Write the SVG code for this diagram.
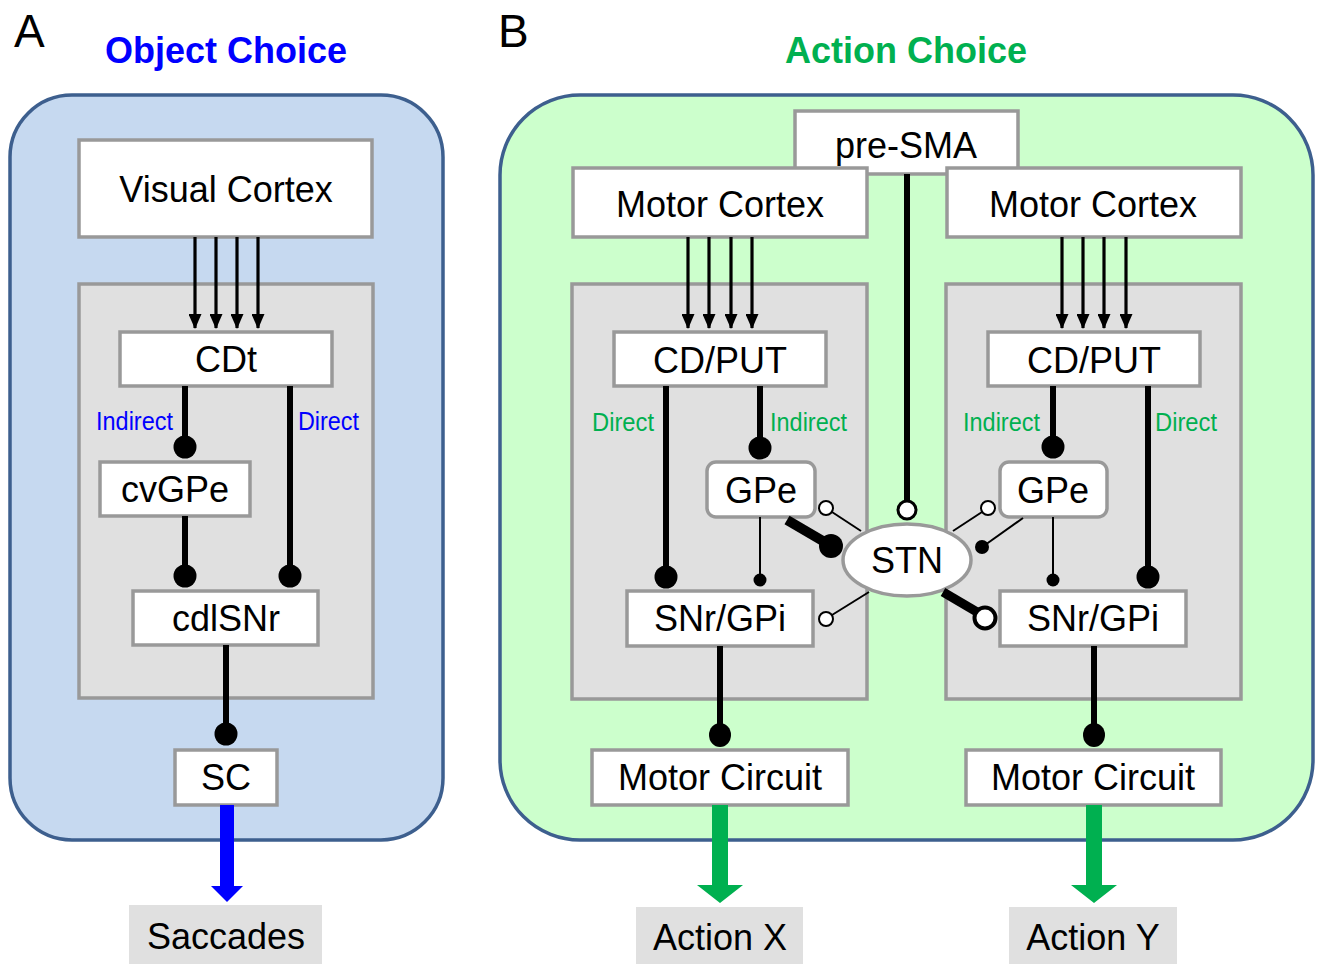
<svg xmlns="http://www.w3.org/2000/svg" width="1320" height="964" viewBox="0 0 1320 964">
<defs>
<style>
text{font-family:"Liberation Sans",Arial,sans-serif;fill:#000}
.t{font-size:36px;text-anchor:middle}
.h{font-size:46px}
.ttl{font-size:36px;font-weight:bold;text-anchor:middle}
.lbl{font-size:26px}
.node{fill:#fff;stroke:#999;stroke-width:3.5}
.grp{fill:#e0e0e0;stroke:#999;stroke-width:3.5}
.panel{stroke:#3d5f8e;stroke-width:3.5}
.ln{stroke:#000;fill:none}
.thick{stroke-width:6}
.thin{stroke-width:2}
.ex{stroke-width:3.2}
.dot{fill:#000}
.open{fill:#fff;stroke:#000;stroke-width:2}
</style>
<marker id="ah" viewBox="0 0 15 13" refX="14" refY="6.5" markerWidth="15" markerHeight="13" markerUnits="userSpaceOnUse" orient="auto">
<path d="M0,0 L15,6.5 L0,13 z" fill="#000"/>
</marker>
</defs>
<rect width="1320" height="964" fill="#fff"/>

<!-- Panel A -->
<g id="panelA">
<text class="h" x="14" y="47">A</text>
<text class="ttl" x="226" y="63" style="fill:#0000ff">Object Choice</text>
<rect class="panel" x="10" y="95" width="433" height="745" rx="62" fill="#c6d9f0"/>
<rect id="groupA" class="grp" x="79" y="284" width="294" height="414"/>
</g>
<g id="visualCortex"><rect class="node" x="79" y="140" width="293" height="97"/><text class="t" x="226" y="202">Visual Cortex</text></g>
<g id="cdt"><rect class="node" x="120" y="332" width="212" height="54"/><text class="t" x="226" y="372">CDt</text></g>
<g id="cvgpe"><rect class="node" x="100" y="462" width="150" height="54"/><text class="t" x="175" y="502">cvGPe</text></g>
<g id="cdlsnr"><rect class="node" x="133" y="591" width="185" height="54"/><text class="t" x="226" y="631">cdlSNr</text></g>
<g id="sc"><rect class="node" x="175" y="750" width="102" height="55"/><text class="t" x="226" y="790">SC</text></g>
<g id="saccades"><rect x="129" y="905" width="193" height="59" fill="#e0e0e0"/><text class="t" x="226" y="949">Saccades</text></g>

<!-- Panel B -->
<g id="panelB">
<text class="h" x="498" y="47">B</text>
<text class="ttl" x="906" y="63" style="fill:#00b050">Action Choice</text>
<rect class="panel" x="500" y="95" width="813" height="745" rx="80" fill="#ccffcc"/>
<rect id="groupL" class="grp" x="572" y="284" width="295" height="415"/>
<rect id="groupR" class="grp" x="946" y="284" width="295" height="415"/>
</g>
<g id="preSMA"><rect class="node" x="795" y="111" width="223" height="63"/><text class="t" x="906" y="158">pre-SMA</text></g>
<g id="motorCortexL"><rect class="node" x="573" y="168" width="294" height="69"/><text class="t" x="720" y="217">Motor Cortex</text></g>
<g id="motorCortexR"><rect class="node" x="947" y="168" width="294" height="69"/><text class="t" x="1093" y="217">Motor Cortex</text></g>
<g id="cdputL"><rect class="node" x="614" y="332" width="212" height="54"/><text class="t" x="720" y="373">CD/PUT</text></g>
<g id="cdputR"><rect class="node" x="988" y="332" width="212" height="54"/><text class="t" x="1094" y="373">CD/PUT</text></g>
<g id="gpeL"><rect class="node" x="707" y="462" width="108" height="55" rx="9"/><text class="t" x="761" y="503">GPe</text></g>
<g id="gpeR"><rect class="node" x="1000" y="462" width="107" height="55" rx="9"/><text class="t" x="1053" y="503">GPe</text></g>
<g id="snrL"><rect class="node" x="627" y="591" width="186" height="55"/><text class="t" x="720" y="631">SNr/GPi</text></g>
<g id="snrR"><rect class="node" x="1000" y="591" width="186" height="55"/><text class="t" x="1093" y="631">SNr/GPi</text></g>
<g id="stn"><ellipse class="node" cx="907" cy="560" rx="64" ry="36"/><text class="t" x="907" y="573">STN</text></g>
<g id="motorCircuitL"><rect class="node" x="592" y="750" width="256" height="55"/><text class="t" x="720" y="790">Motor Circuit</text></g>
<g id="motorCircuitR"><rect class="node" x="966" y="750" width="255" height="55"/><text class="t" x="1093" y="790">Motor Circuit</text></g>
<g id="actionX"><rect x="636" y="907" width="167" height="57" fill="#e0e0e0"/><text class="t" x="720" y="950">Action X</text></g>
<g id="actionY"><rect x="1009" y="907" width="168" height="57" fill="#e0e0e0"/><text class="t" x="1093" y="950">Action Y</text></g>

<!-- Connectors -->
<g id="connectors">
<!-- A: cortex to CDt -->
<g class="ln ex" marker-end="url(#ah)">
<line x1="195" y1="237" x2="195" y2="328"/>
<line x1="216" y1="237" x2="216" y2="328"/>
<line x1="237" y1="237" x2="237" y2="328"/>
<line x1="258" y1="237" x2="258" y2="328"/>
</g>
<g class="ln thick">
<line x1="185" y1="386" x2="185" y2="445"/>
<line x1="290" y1="386" x2="290" y2="574"/>
<line x1="185" y1="516" x2="185" y2="574"/>
<line x1="226" y1="645" x2="226" y2="732"/>
</g>
<circle class="dot" cx="185" cy="447" r="11.5"/>
<circle class="dot" cx="185" cy="576" r="11.5"/>
<circle class="dot" cx="290" cy="576" r="11.5"/>
<circle class="dot" cx="226" cy="734" r="11.5"/>
<text class="lbl" x="96" y="430" style="fill:#0000ff" textLength="77" lengthAdjust="spacingAndGlyphs">Indirect</text>
<text class="lbl" x="298" y="430" style="fill:#0000ff" textLength="61" lengthAdjust="spacingAndGlyphs">Direct</text>
<path d="M220,805 H234 V886 H243 L227,902 L211,886 H220 Z" fill="#0000ff"/>

<!-- B: cortex to CD/PUT -->
<g class="ln ex" marker-end="url(#ah)">
<line x1="688" y1="237" x2="688" y2="328"/>
<line x1="709" y1="237" x2="709" y2="328"/>
<line x1="731" y1="237" x2="731" y2="328"/>
<line x1="752" y1="237" x2="752" y2="328"/>
<line x1="1062" y1="237" x2="1062" y2="328"/>
<line x1="1083" y1="237" x2="1083" y2="328"/>
<line x1="1104" y1="237" x2="1104" y2="328"/>
<line x1="1126" y1="237" x2="1126" y2="328"/>
</g>
<g class="ln thick">
<line x1="666" y1="386" x2="666" y2="575"/>
<line x1="760" y1="386" x2="760" y2="446"/>
<line x1="1053" y1="386" x2="1053" y2="446"/>
<line x1="1148" y1="386" x2="1148" y2="575"/>
<line x1="907" y1="174" x2="907" y2="501"/>
<line x1="720" y1="646" x2="720" y2="733"/>
<line x1="1094" y1="646" x2="1094" y2="733"/>
</g>
<circle class="dot" cx="666" cy="577" r="11.5"/>
<circle class="dot" cx="760" cy="448" r="11.5"/>
<circle class="dot" cx="1053" cy="447" r="11.5"/>
<circle class="dot" cx="1148" cy="577" r="11.5"/>
<ellipse class="dot" cx="720" cy="735" rx="11" ry="12"/>
<ellipse class="dot" cx="1094" cy="735" rx="11" ry="12"/>
<circle class="open" cx="907" cy="510" r="9" style="stroke-width:3"/>
<text class="lbl" x="592" y="431" style="fill:#00b050" textLength="62" lengthAdjust="spacingAndGlyphs">Direct</text>
<text class="lbl" x="770" y="431" style="fill:#00b050" textLength="77" lengthAdjust="spacingAndGlyphs">Indirect</text>
<text class="lbl" x="963" y="431" style="fill:#00b050" textLength="77" lengthAdjust="spacingAndGlyphs">Indirect</text>
<text class="lbl" x="1155" y="431" style="fill:#00b050" textLength="62" lengthAdjust="spacingAndGlyphs">Direct</text>
<!-- thin connections -->
<g class="ln thin">
<line x1="760" y1="517" x2="760" y2="578"/>
<line x1="1053" y1="517" x2="1053" y2="578"/>
<line x1="861" y1="531" x2="832" y2="512"/>
<line x1="869" y1="592" x2="832" y2="615"/>
<line x1="953" y1="531" x2="982" y2="512"/>
<line x1="1023" y1="518" x2="985" y2="545"/>
</g>
<circle class="dot" cx="760" cy="580" r="6.5"/>
<circle class="dot" cx="1053" cy="580" r="6.5"/>
<circle class="dot" cx="982" cy="547" r="7"/>
<circle class="open" cx="826" cy="508" r="7"/>
<circle class="open" cx="826" cy="619" r="7"/>
<circle class="open" cx="988" cy="508" r="7"/>
<!-- GPe to STN thick -->
<line class="ln" x1="787" y1="520" x2="828" y2="544" style="stroke-width:10"/>
<circle class="dot" cx="831" cy="546" r="12"/>
<!-- STN to SNr right thick -->
<line class="ln" x1="943" y1="592" x2="977" y2="612" style="stroke-width:9"/>
<circle cx="985" cy="618" r="10.5" fill="#fff" stroke="#000" stroke-width="4"/>
<!-- output arrows -->
<path d="M712,805 H728 V885 H743 L720,903 L697,885 H712 Z" fill="#00b050"/>
<path d="M1086,805 H1102 V885 H1117 L1094,903 L1071,885 H1086 Z" fill="#00b050"/>
</g>
</svg>
